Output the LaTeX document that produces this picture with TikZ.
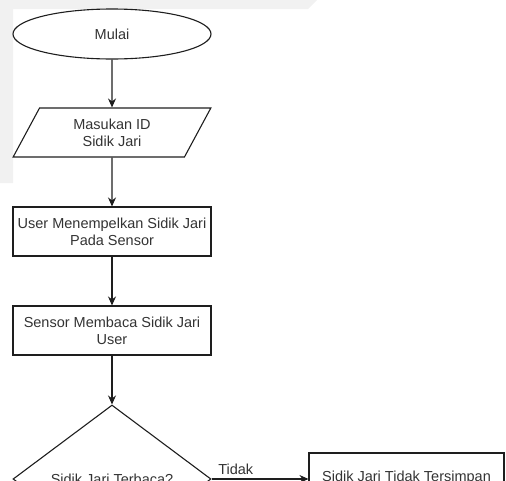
\documentclass[tikz,border=0pt]{standalone}
\usepackage{fontspec}
\setmainfont{Liberation Sans}
\usetikzlibrary{shapes.geometric,arrows.meta}
\definecolor{txt}{HTML}{333333}
\definecolor{ln}{HTML}{1E1E1E}
\definecolor{bgband}{HTML}{F1F1F1}
\begin{document}
\begin{tikzpicture}[x=1pt,y=-1pt,
  every node/.style={font=\fontsize{14.5}{17}\selectfont, text=txt, align=center, inner sep=0pt},
  shapeline/.style={draw=ln, line width=1.1pt},
  boxstyle/.style={shapeline, rectangle, minimum width=198pt, minimum height=49pt},
  conn/.style={draw=ln, line width=1.1pt, -{Stealth[length=9pt,width=8pt]}}]
\useasboundingbox (0,0) rectangle (506,480);
\clip (0,0) rectangle (506,480);
% background page bands
\fill[bgband] (0,0) -- (317,0) -- (308,9) -- (13,9) -- (13,183) -- (0,183) -- cycle;
% nodes
\node[shapeline, ellipse, minimum width=198pt, minimum height=50pt] (start) at (112,34) {Mulai};
\node[shapeline, trapezium, trapezium left angle=63, trapezium right angle=117, minimum width=198pt, minimum height=49pt, trapezium stretches=true] (input) at (112,132.5) {Masukan ID\\Sidik Jari};
\node[boxstyle] (stick) at (112,231.5) {User Menempelkan Sidik Jari\\Pada Sensor};
\node[boxstyle] (read) at (112,330.5) {Sensor Membaca Sidik Jari\\User};
\node[shapeline, diamond, minimum width=198pt, minimum height=148pt, aspect=1.34] (dec) at (112,479) {Sidik Jari Terbaca?};
\node[boxstyle, minimum width=195pt, minimum height=50pt] (notsaved) at (406.5,478) {Sidik Jari Tidak Tersimpan};
% connectors
\draw[conn] (start) -- (input);
\draw[conn] (input) -- (stick);
\draw[conn] (stick) -- (read);
\draw[conn] (read) -- (dec);
\draw[conn] (dec.east) -- node[above=4pt, pos=0.25] {Tidak} (dec.east -| notsaved.west);
\end{tikzpicture}
\end{document}
